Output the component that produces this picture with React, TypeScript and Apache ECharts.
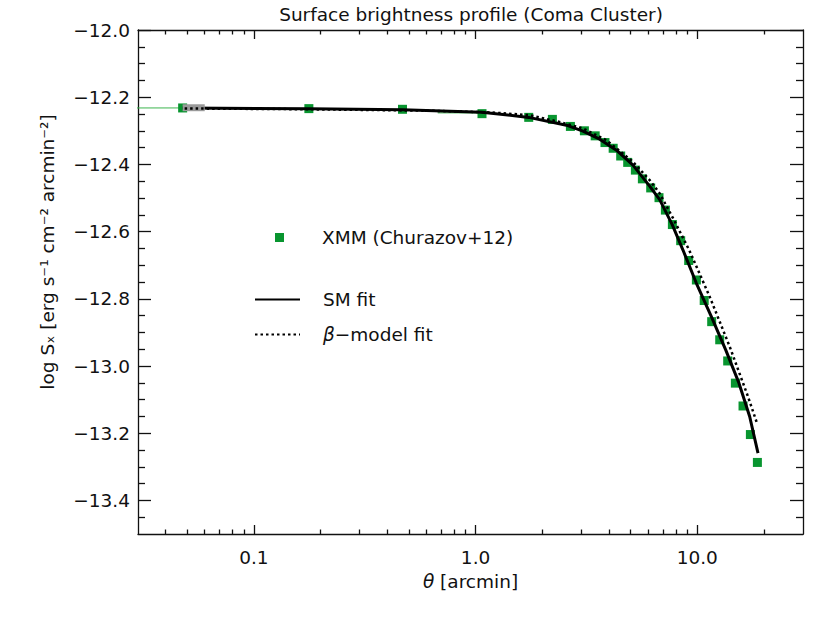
import React, { useEffect, useRef } from 'react';
import * as echarts from 'echarts';

const FONT = 'DejaVu Sans';
const INK = '#111111';
const FS = 18.5;

const TITLE = 'Surface brightness profile (Coma Cluster)';
const X_NAME = '{i|θ} [arcmin]';
const Y_NAME = 'log Sₓ [erg s⁻¹ cm⁻² arcmin⁻²]';

const X_MIN = 0.03;
const X_MAX = 30;
const Y_MIN = -13.5;
const Y_MAX = -12.0;

const xMajorTicks = [0.1, 1, 10];
const xMajorLabels = ['0.1', '1.0', '10.0'];
const xMinorTicks = [0.04, 0.05, 0.06, 0.07, 0.08, 0.09, 0.2, 0.3, 0.4, 0.5, 0.6, 0.7, 0.8, 0.9, 2, 3, 4, 5, 6, 7, 8, 9, 20];
const yMajorTicks = [-13.4, -13.2, -13.0, -12.8, -12.6, -12.4, -12.2, -12.0];
const yMajorLabels = ['−13.4', '−13.2', '−13.0', '−12.8', '−12.6', '−12.4', '−12.2', '−12.0'];
const yMinorTicks = [-13.45, -13.35, -13.3, -13.25, -13.15, -13.1, -13.05, -12.95, -12.9, -12.85, -12.75, -12.7, -12.65, -12.55, -12.5, -12.45, -12.35, -12.3, -12.25, -12.15, -12.1, -12.05];

// XMM data (Churazov+12)
const xmmTheta = [0.0477, 0.177, 0.468, 1.069, 1.737, 2.221, 2.678, 3.097, 3.464, 3.835, 4.176, 4.515, 4.856, 5.26, 5.656, 6.166, 6.722, 7.183, 7.725, 8.42, 9.15, 9.91, 10.75, 11.62, 12.63, 13.72, 14.86, 16.09, 17.37, 18.68];
const xmmLogS = [-12.232, -12.234, -12.236, -12.249, -12.26, -12.266, -12.287, -12.3, -12.315, -12.335, -12.352, -12.375, -12.394, -12.417, -12.443, -12.47, -12.499, -12.536, -12.579, -12.627, -12.686, -12.744, -12.805, -12.868, -12.922, -12.985, -13.051, -13.119, -13.204, -13.287];

// SM fit
const smTheta = [0.0477, 0.177, 0.468, 1.066, 1.737, 2.569, 3.05, 3.629, 4.318, 5.13, 6.1, 6.77, 7.72, 8.624, 9.913, 11.58, 13.44, 15.43, 17.24, 18.8];
const smLogS = [-12.232, -12.2345, -12.2372, -12.2447, -12.2601, -12.2833, -12.301, -12.3249, -12.3576, -12.4022, -12.4646, -12.505, -12.58, -12.6549, -12.7539, -12.8532, -12.9521, -13.0511, -13.1504, -13.2592];

// beta-model fit
const betaTheta = [0.0487, 0.161, 0.621, 1.195, 1.755, 2.39, 3.052, 3.892, 5.13, 6.1, 6.77, 7.774, 9.2, 11.38, 14.01, 16.94, 18.6];
const betaLogS = [-12.2336, -12.2357, -12.2402, -12.2455, -12.2536, -12.2735, -12.2931, -12.3279, -12.3924, -12.4468, -12.4863, -12.56, -12.6549, -12.7937, -12.9423, -13.091, -13.17];

// visible x error bars [thetaFrom, thetaTo] and their level
const errTheta = [[0.02, 0.0477], [0.675, 1.069]];
const errLogS = [-12.232, -12.2467];

// grey box near the first point
const greyTheta = [0.0477, 0.06];
const greyLogS = [-12.221, -12.2417];

const lg = (v: number) => Math.log10(v);
const pairs = (xs: number[], ys: number[]) => xs.map((x, i) => [lg(x), ys[i]]);

export default function App() {
  const ref = useRef<HTMLDivElement>(null);

  useEffect(() => {
    document.body.style.margin = '0';
    const chart = echarts.init(ref.current!, null, { renderer: 'svg' });
    const xMin = lg(X_MIN);
    const xMax = lg(X_MAX);
    const xMajor = xMajorTicks.map(lg);
    const xMinor = xMinorTicks.map(lg);
    const xLabel = (v: number) => {
      const i = xMajor.findIndex((t) => Math.abs(t - v) < 1e-6);
      return i >= 0 ? xMajorLabels[i] : '';
    };
    const yLabel = (v: number) => {
      const i = yMajorTicks.findIndex((t) => Math.abs(t - v) < 1e-6);
      return i >= 0 ? yMajorLabels[i] : '';
    };
    const axisLineStyle = { color: INK, width: 1.3 };
    const textBase = { fontFamily: FONT, fontSize: FS, color: INK };

    const mkX = (position: string, major: boolean, main: boolean) => ({
      type: 'value',
      position,
      min: xMin,
      max: xMax,
      splitLine: { show: false },
      axisLine: { show: major, onZero: false, lineStyle: axisLineStyle },
      axisTick: {
        show: true,
        inside: true,
        length: major ? 9 : 4.5,
        customValues: major ? xMajor : xMinor,
        lineStyle: axisLineStyle,
      },
      axisLabel: main
        ? { show: true, customValues: xMajor, formatter: xLabel, margin: 14, ...textBase }
        : { show: false },
      ...(main
        ? {
            name: X_NAME,
            nameLocation: 'middle',
            nameGap: 32,
            nameTextStyle: {
              ...textBase,
              rich: {
                i: { ...textBase, fontStyle: 'italic' },
              },
            },
          }
        : {}),
    });

    const mkY = (position: string, major: boolean, main: boolean) => ({
      type: 'value',
      position,
      min: Y_MIN,
      max: Y_MAX,
      splitLine: { show: false },
      axisLine: { show: major, onZero: false, lineStyle: axisLineStyle },
      axisTick: {
        show: true,
        inside: true,
        length: major ? 13 : 7,
        customValues: major ? yMajorTicks : yMinorTicks,
        lineStyle: axisLineStyle,
      },
      axisLabel: main
        ? { show: true, customValues: yMajorTicks, formatter: yLabel, margin: 8, ...textBase }
        : { show: false },
      ...(main
        ? {
            name: Y_NAME,
            nameLocation: 'middle',
            nameGap: 81,
            nameRotate: 90,
            nameTextStyle: { ...textBase, padding: [0, 0, 0, 60] },
          }
        : {}),
    });

    const option: any = {
      animation: false,
      backgroundColor: '#ffffff',
      textStyle: { fontFamily: FONT },
      title: {
        text: TITLE,
        left: 471,
        top: 4.5,
        textAlign: 'center',
        padding: 0,
        textStyle: { ...textBase, fontWeight: 'normal' },
      },
      grid: { left: 138, right: 27, top: 30, bottom: 90, containLabel: false, outerBoundsMode: 'none' },
      xAxis: [mkX('bottom', true, true), mkX('bottom', false, false), mkX('top', true, false), mkX('top', false, false)],
      yAxis: [mkY('left', true, true), mkY('left', false, false), mkY('right', true, false), mkY('right', false, false)],
      legend: [
        {
          data: ['XMM (Churazov+12)'],
          left: 275,
          top: 228,
          orient: 'vertical',
          padding: 0,
          itemWidth: 9,
          itemHeight: 9,
          icon: 'rect',
          selectedMode: false,
          textStyle: { ...textBase, padding: [0, 0, 0, 33] },
        },
        {
          data: ['SM fit', 'β−model fit'],
          left: 254,
          top: 290,
          orient: 'vertical',
          padding: 0,
          itemWidth: 45,
          itemHeight: 18,
          itemGap: 16,
          selectedMode: false,
          itemStyle: { opacity: 0 },
          formatter: (n: string) => (n === 'β−model fit' ? '{i|β}−model fit' : n),
          textStyle: {
            ...textBase,
            padding: [0, 0, 0, 18],
            rich: { i: { ...textBase, fontStyle: 'italic' } },
          },
        },
      ],
      series: [
        ...errTheta.map((seg, k) => ({
          type: 'line',
          name: 'xerr' + k,
          xAxisIndex: 0,
          yAxisIndex: 0,
          z: 1,
          showSymbol: false,
          symbol: 'none',
          silent: true,
          lineStyle: { color: '#3cb54e', width: 1 },
          data: [
            [lg(seg[0]), errLogS[k]],
            [lg(seg[1]), errLogS[k]],
          ],
        })),
        {
          type: 'scatter',
          name: 'XMM (Churazov+12)',
          xAxisIndex: 0,
          yAxisIndex: 0,
          z: 2,
          symbol: 'rect',
          symbolSize: 9,
          itemStyle: { color: '#08952f', opacity: 1 },
          data: pairs(xmmTheta, xmmLogS),
        },
        {
          type: 'line',
          name: 'SM fit',
          xAxisIndex: 0,
          yAxisIndex: 0,
          z: 3,
          symbol: 'none',
          showSymbol: false,
          lineStyle: { color: '#000000', width: 3 },
          itemStyle: { color: '#000000' },
          data: pairs(smTheta, smLogS),
        },
        {
          type: 'line',
          name: 'β−model fit',
          xAxisIndex: 0,
          yAxisIndex: 0,
          z: 5,
          symbol: 'none',
          showSymbol: false,
          lineStyle: { color: '#000000', width: 2.5, type: [2.5, 3] },
          itemStyle: { color: '#000000' },
          data: pairs(betaTheta, betaLogS),
          markArea: {
            silent: true,
            z: 4,
            label: { show: false },
            itemStyle: { color: '#9a9a9a', opacity: 1 },
            data: [
              [
                { coord: [lg(greyTheta[0]), greyLogS[0]] },
                { coord: [lg(greyTheta[1]), greyLogS[1]] },
              ],
            ],
          },
        },
      ],
    };

    chart.setOption(option);
    return () => chart.dispose();
  }, []);

  return <div ref={ref} style={{ width: 830, height: 624 }} />;
}
